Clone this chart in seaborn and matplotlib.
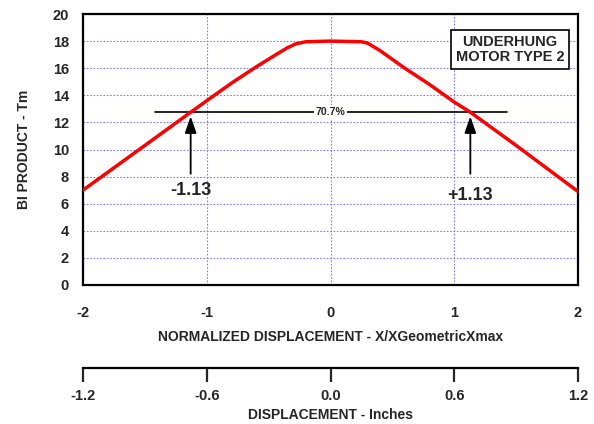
import matplotlib
matplotlib.use("Agg")
import matplotlib.pyplot as plt
import seaborn as sns
import pandas as pd

# Data
x_norm = [-2.0, -1.5, -1.13, -1.0, -0.8, -0.6, -0.45, -0.35, -0.28, -0.2, 0.0, 0.25, 0.3, 0.4, 0.6, 0.8, 1.0, 1.13, 1.5, 2.0]
bi_product = [7.0, 10.3, 12.75, 13.6, 14.9, 16.1, 16.95, 17.5, 17.8, 17.95, 18.0, 17.95, 17.85, 17.3, 16.0, 14.8, 13.5, 12.75, 10.3, 6.9]
x_ticks = [-2, -1, 0, 1, 2]
y_ticks = [0, 2, 4, 6, 8, 10, 12, 14, 16, 18, 20]
inch_ticks = [-1.2, -0.6, 0.0, 0.6, 1.2]
inch_labels = ["-1.2", "-0.6", "0.0", "0.6", "1.2"]
level = 12.75
level_span = [-1.42, 1.43]
marks = [-1.13, 1.13]
mark_labels = ["-1.13", "+1.13"]

sns.set_style("white")
plt.rcParams['font.family'] = ['Liberation Sans', 'DejaVu Sans']
plt.rcParams['font.weight'] = 'bold'
plt.rcParams['axes.labelweight'] = 'bold'
plt.rcParams['axes.unicode_minus'] = False

fig = plt.figure(figsize=(5.94, 4.24), dpi=100)
ax = fig.add_axes([83/594, 1-285/424, 495/594, 271/424])

df = pd.DataFrame({"x": x_norm, "y": bi_product})
sns.lineplot(data=df, x="x", y="y", ax=ax, color="#ff0000", linewidth=2.5, zorder=5)

ax.set_xlim(-2, 2)
ax.set_ylim(0, 20)
ax.set_xticks(x_ticks)
ax.set_yticks(y_ticks)
ax.set_xticklabels([str(t) for t in x_ticks], fontweight="bold")
ax.set_yticklabels([str(t) for t in y_ticks], fontweight="bold")
ax.grid(True, color="#7b7bff", linestyle=(0, (1.5, 1.5)), linewidth=0.8)
for s in ax.spines.values():
    s.set_visible(True)
    s.set_color("black")
    s.set_linewidth(1.6)
ax.tick_params(axis="x", direction="out", length=8, width=1.6, pad=7, labelsize=10.5)
ax.tick_params(axis="y", direction="out", length=6, width=1.6, pad=4, labelsize=10.5)
ax.set_xlabel("NORMALIZED DISPLACEMENT - X/XGeometricXmax", fontsize=10, fontweight="bold", labelpad=7)
ax.set_ylabel("BI PRODUCT - Tm", fontsize=10, fontweight="bold", labelpad=16)

# 70.7% line
ax.plot(level_span, [level, level], color="black", linewidth=1.2, zorder=4)
ax.text(0.0, level, "70.7%", fontsize=7.5, fontweight="bold", ha="center", va="center",
        bbox=dict(facecolor="white", edgecolor="none", pad=1.5), zorder=6)

for xm, lbl, ly in zip(marks, mark_labels, [7.0, 6.6]):
    ax.annotate("", xy=(xm, level - 0.1), xytext=(xm, 8.0),
                arrowprops=dict(arrowstyle="-|>,head_length=1.0,head_width=0.35", color="black", lw=1.3),
                zorder=6)
    ax.text(xm, ly, lbl, fontsize=13, fontweight="heavy", ha="center", va="center")

ax.text(1.45, 17.4, "UNDERHUNG\nMOTOR TYPE 2", fontsize=10.5, fontweight="heavy", ha="center", va="center",
        linespacing=1.1,
        bbox=dict(facecolor="white", edgecolor="black", linewidth=1.2, boxstyle="square,pad=0.35"), zorder=7)

# Secondary displacement axis
ax2 = fig.add_axes([83/594, 1-368/424, 495/594, 0.0001])
ax2.set_facecolor("none")
for k in ["top", "left", "right"]:
    ax2.spines[k].set_visible(False)
ax2.spines["bottom"].set_visible(True)
ax2.spines["bottom"].set_color("black")
ax2.spines["bottom"].set_linewidth(1.6)
ax2.set_xlim(-1.2, 1.2)
ax2.set_yticks([])
ax2.set_xticks(inch_ticks)
ax2.set_xticklabels(inch_labels, fontweight="bold")
ax2.tick_params(axis="x", direction="out", length=10, width=1.6, pad=5, labelsize=10.5, bottom=True)
ax2.set_xlabel("DISPLACEMENT - Inches", fontsize=10, fontweight="bold", labelpad=4)

fig.savefig("out.png", dpi=100)
